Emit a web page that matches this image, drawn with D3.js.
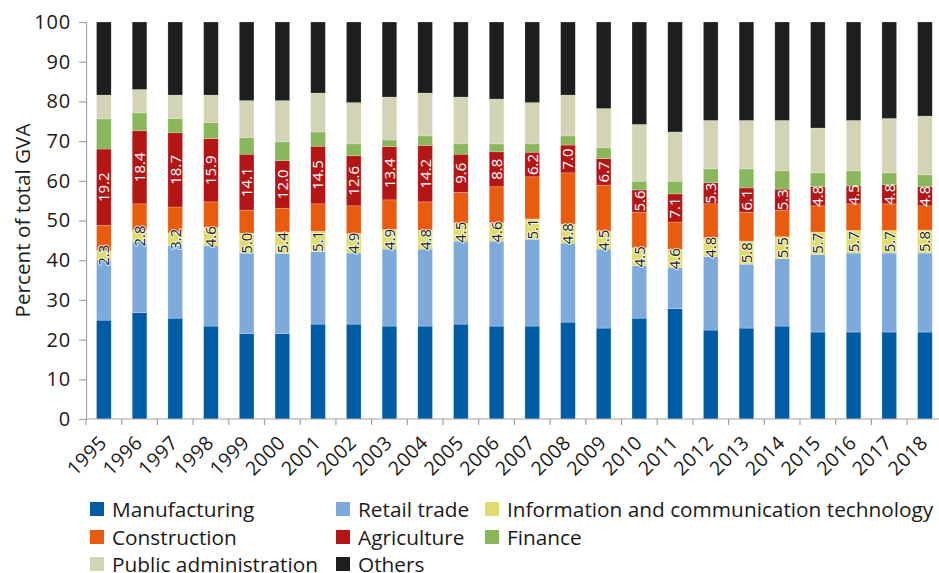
<!DOCTYPE html>
<html>
<head>
<meta charset="utf-8">
<script src="https://cdn.jsdelivr.net/npm/d3@7"></script>
<style>
  html, body { margin: 0; padding: 0; background: #fff; }
  svg { display: block; font-family: "Open Sans", "Noto Sans", sans-serif; }
</style>
</head>
<body>
<svg id="chart" width="939" height="573"></svg>
<script>
// Share of total gross value added by sector, 1995–2018 (percent)
const years = ["1995","1996","1997","1998","1999","2000","2001","2002","2003","2004","2005","2006",
               "2007","2008","2009","2010","2011","2012","2013","2014","2015","2016","2017","2018"];

const manufacturing = [24.9,26.8,25.4,23.4,21.5,21.5,23.9,23.9,23.4,23.4,23.9,23.4,23.4,24.4,22.9,25.4,27.8,22.4,22.9,23.4,21.9,21.9,21.9,21.9];
const retailTrade   = [15.2,17.9,18.3,20.2,20.3,20.2,18.3,17.9,19.4,19.4,20.9,21.4,21.9,19.9,19.9,13.2,10.3,18.5,16.1,17.0,19.5,19.9,19.9,19.9];
const ict           = [2.3,2.8,3.2,4.6,5.0,5.4,5.1,4.9,4.9,4.8,4.5,4.6,5.1,4.8,4.5,4.5,4.6,4.8,5.8,5.5,5.7,5.7,5.7,5.8];
const construction  = [6.4,6.7,6.5,6.5,5.8,6.0,6.9,7.0,7.5,7.1,7.8,9.1,10.6,12.9,11.6,9.0,6.9,8.5,7.3,6.7,6.6,6.7,6.7,6.1];
const agriculture   = [19.2,18.4,18.7,15.9,14.1,12.0,14.5,12.6,13.4,14.2,9.6,8.8,6.2,7.0,6.7,5.6,7.1,5.3,6.1,5.3,4.8,4.5,4.8,4.8];
const finance       = [7.6,4.5,3.6,4.1,4.2,4.7,3.6,3.0,1.7,2.4,2.6,2.0,2.1,2.3,2.7,2.2,3.2,3.5,4.8,4.6,3.5,3.8,3.0,3.0];
const publicAdmin   = [6.0,5.9,5.9,6.9,9.3,10.4,9.8,10.4,10.8,10.8,11.8,11.3,10.4,10.3,9.9,14.3,12.4,12.2,12.2,12.7,11.3,12.7,13.7,14.8];
const others        = [18.4,17.0,18.4,18.4,19.8,19.8,17.9,20.3,18.9,17.9,18.9,19.4,20.3,18.4,21.8,25.8,27.7,24.8,24.8,24.8,26.7,24.8,24.3,23.7];

const yTicks = [0,10,20,30,40,50,60,70,80,90,100];

const series = [
  { key: "Manufacturing", values: manufacturing, color: "#005ca4" },
  { key: "Retail trade", values: retailTrade, color: "#7eaadb" },
  { key: "Information and communication technology", values: ict, color: "#dedc6c", label: "dark" },
  { key: "Construction", values: construction, color: "#e95c0f" },
  { key: "Agriculture", values: agriculture, color: "#b41616", label: "light" },
  { key: "Finance", values: finance, color: "#8ab75b" },
  { key: "Public administration", values: publicAdmin, color: "#d3d3b6" },
  { key: "Others", values: others, color: "#1e1e1c" }
];

// Legend layout: three columns, row-major order
const legendOrder = [
  ["Manufacturing", "Retail trade", "Information and communication technology"],
  ["Construction", "Agriculture", "Finance"],
  ["Public administration", "Others"]
];

const rows = years.map((yr, i) => {
  const r = { year: yr };
  series.forEach(s => { r[s.key] = s.values[i]; });
  return r;
});

const svg = d3.select("#chart");
const plotLeft = 86, plotTop = 22, plotBottom = 419;
const bandStep = 35.7;
const plotRight = plotLeft + bandStep * years.length;
const ink = "#1a1a1a";

const x = d3.scaleBand().domain(years).range([plotLeft, plotRight]).paddingInner(0.59).paddingOuter(0.295);
const y = d3.scaleLinear().domain([0, 100]).range([plotBottom, plotTop]);

const stacked = d3.stack().keys(series.map(s => s.key))(rows);
const colorOf = Object.fromEntries(series.map(s => [s.key, s.color]));

// Stacked bars
const layers = svg.append("g").selectAll("g").data(stacked).join("g")
  .attr("fill", d => colorOf[d.key]);
layers.selectAll("rect").data(d => d).join("rect")
  .attr("x", d => x(d.data.year))
  .attr("width", x.bandwidth())
  .attr("y", d => y(d[1]))
  .attr("height", d => y(d[0]) - y(d[1]))
  .attr("stroke", "#ffffff")
  .attr("stroke-opacity", 0.35)
  .attr("stroke-width", 0.6);

// Value labels on ICT and Agriculture segments
series.filter(s => s.label).forEach(s => {
  const layer = stacked.find(l => l.key === s.key);
  const g = svg.append("g");
  g.selectAll("text").data(layer).join("text")
    .attr("transform", d => {
      const cx = x(d.data.year) + x.bandwidth() / 2;
      const cy = y((d[0] + d[1]) / 2);
      return `translate(${cx},${cy}) rotate(-90)`;
    })
    .attr("text-anchor", "middle")
    .attr("dy", "0.36em")
    .attr("font-size", 15)
    .attr("fill", s.label === "light" ? "#ffffff" : "#222222")
    .attr("stroke", s.label === "light" ? "none" : "#ffffff")
    .attr("stroke-width", s.label === "light" ? 0 : 2)
    .attr("stroke-opacity", 0.8)
    .attr("paint-order", "stroke")
    .text(d => (d[1] - d[0]).toFixed(1));
});

// Y axis
const yAxis = svg.append("g").attr("transform", `translate(${plotLeft},0)`)
  .call(d3.axisLeft(y).tickValues(yTicks).tickSize(7).tickPadding(8));
yAxis.selectAll("path, line").attr("stroke", "#a3a3a3").attr("stroke-width", 1.2);
yAxis.selectAll("text").attr("font-size", 20).attr("letter-spacing", 0.8).attr("fill", ink)
  .attr("font-family", "'Open Sans', 'Noto Sans', sans-serif");

// X axis: baseline with ticks at category boundaries
const xAxis = svg.append("g");
xAxis.append("line").attr("x1", plotLeft).attr("x2", plotRight).attr("y1", plotBottom).attr("y2", plotBottom)
  .attr("stroke", "#a3a3a3").attr("stroke-width", 1.2);
const boundaries = years.map(d => x(d) - (x.step() - x.bandwidth()) / 2);
xAxis.selectAll("line.tick").data(boundaries).join("line").attr("class", "tick")
  .attr("x1", d => d).attr("x2", d => d).attr("y1", plotBottom).attr("y2", plotBottom + 6)
  .attr("stroke", "#a3a3a3").attr("stroke-width", 1.2);
xAxis.selectAll("text").data(years).join("text")
  .attr("transform", d => `translate(${x(d) + x.bandwidth() / 2 + 4},${plotBottom + 25}) rotate(-45)`)
  .attr("text-anchor", "end")
  .attr("font-size", 19.5)
  .attr("letter-spacing", 0.4)
  .attr("fill", ink)
  .text(d => d);

// Y axis title
svg.append("text")
  .attr("transform", `translate(29.5,${(plotTop + plotBottom) / 2}) rotate(-90)`)
  .attr("text-anchor", "middle")
  .attr("font-size", 20.7)
  .attr("fill", ink)
  .text("Percent of total GVA");

// Legend
const colX = [90, 336, 485];
const rowY = [509, 537, 564];
legendOrder.forEach((row, ri) => {
  row.forEach((key, ci) => {
    const g = svg.append("g").attr("transform", `translate(${colX[ci]},${rowY[ri]})`);
    g.append("rect").attr("x", 0).attr("y", -7).attr("width", 14).attr("height", 14)
      .attr("fill", colorOf[key]);
    g.append("text").attr("x", 22).attr("y", 0).attr("dy", "0.36em")
      .attr("font-size", 20.8).attr("fill", ink).text(key);
  });
});
</script>
</body>
</html>
